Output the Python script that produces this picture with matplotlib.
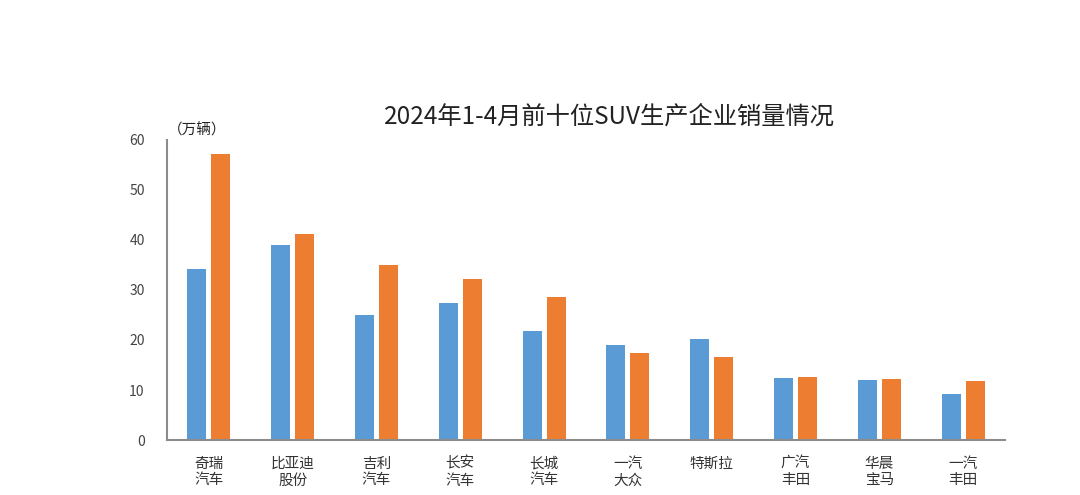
import numpy as np
import matplotlib
matplotlib.use('Agg')
import matplotlib.pyplot as plt

plt.rcParams['font.family'] = ['Noto Sans CJK SC', 'DejaVu Sans']

# --- data (万辆) ---
companies = ['奇瑞\n汽车', '比亚迪\n股份', '吉利\n汽车', '长安\n汽车', '长城\n汽车',
             '一汽\n大众', '特斯拉', '广汽\n丰田', '华晨\n宝马', '一汽\n丰田']
sales_2023 = [34.1, 39.0, 24.9, 27.3, 21.7, 18.9, 20.2, 12.5, 12.1, 9.2]
sales_2024 = [57.2, 41.1, 34.9, 32.1, 28.5, 17.3, 16.7, 12.7, 12.3, 11.9]
yticks = [0, 10, 20, 30, 40, 50, 60]

fig = plt.figure(figsize=(10.8, 4.95), dpi=100)
ax = fig.add_axes([0.1546, 0.1111, 0.776, 0.6061])

x = np.arange(len(companies))
w = 0.227
ax.bar(x - 0.143, sales_2023, width=w, color='#5B9BD5')
ax.bar(x + 0.143, sales_2024, width=w, color='#ED7D31')

ax.set_xlim(-0.5, len(companies) - 0.5)
ax.set_ylim(0, 60)
ax.set_yticks(yticks)
ax.set_xticks(x)
ax.set_xticklabels(companies, fontsize=10.5, color='#333333', linespacing=1.25)
ax.tick_params(axis='y', length=0, labelsize=10, labelcolor='#444444', pad=16)
ax.tick_params(axis='x', length=0, pad=12)

for s in ['top', 'right']:
    ax.spines[s].set_visible(False)
for s in ['left', 'bottom']:
    ax.spines[s].set_color('#8c8c8c')
    ax.spines[s].set_linewidth(1.5)

fig.text(0.564, 0.764, '2024年1-4月前十位SUV生产企业销量情况', ha='center', va='center',
         fontsize=17.5, color='#222222')
fig.text(0.155, 0.737, '（万辆）', ha='left', va='center', fontsize=10.5, color='#222222')

fig.savefig('out.png', dpi=100)
